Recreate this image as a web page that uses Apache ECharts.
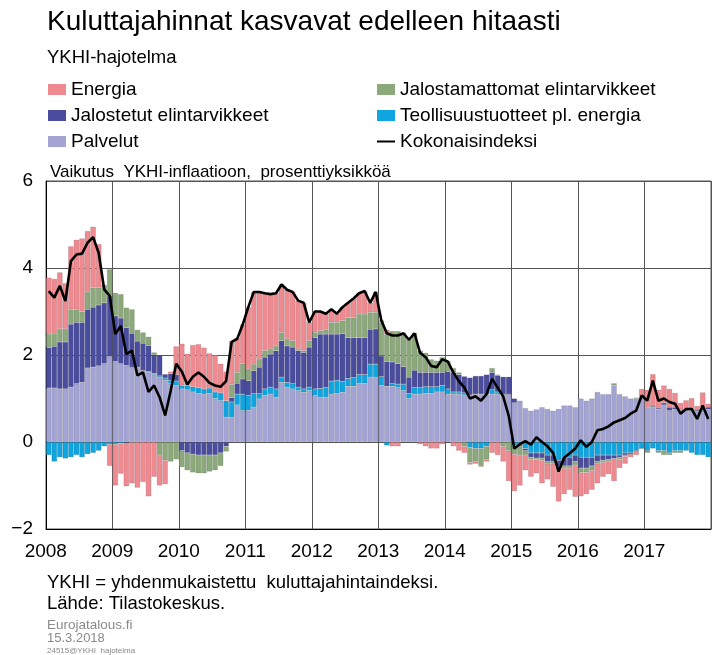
<!DOCTYPE html>
<html>
<head>
<meta charset="utf-8">
<script src="https://cdn.jsdelivr.net/npm/echarts@6/dist/echarts.min.js"></script>
<style>
html, body { margin: 0; padding: 0; background: #fff; }
#chart { width: 712px; height: 655px; }
</style>
</head>
<body>
<div id="chart"></div>
<script>
var years = ['2008', '2009', '2010', '2011', '2012', '2013', '2014', '2015', '2016', '2017'];

// kuukausittaiset vaikutukset, prosenttiyksikköä (2008/01 - 2017/12)
var palvelut = [
  1.24,1.24,1.22,1.22,1.26,1.34,1.37,1.7,1.72,1.75,1.8,1.96,
  1.85,1.8,1.76,1.72,1.7,1.65,1.6,1.55,1.49,1.42,1.34,1.3,
  1.22,1.2,1.15,1.12,1.1,1.12,1.0,0.95,0.57,0.57,0.85,0.72,
  0.73,0.8,0.99,1.07,1.1,1.03,1.37,1.26,1.22,1.18,1.14,1.18,
  1.07,1.03,1.03,1.1,1.12,1.14,1.28,1.28,1.35,1.35,1.49,1.49,
  1.3,1.28,1.28,1.25,1.18,1.0,1.1,1.1,1.12,1.12,1.15,1.15,
  1.1,1.1,1.1,1.08,1.08,1.1,1.1,1.1,1.1,1.1,1.1,1.1,
  0.9,0.95,0.78,0.72,0.75,0.8,0.76,0.72,0.76,0.84,0.84,0.8,
  1.0,0.95,1.0,1.15,1.1,1.1,1.3,1.1,1.05,1.0,1.0,1.0,
  0.8,0.8,0.75,0.85,0.72,0.75,0.72,0.7,0.72,0.7,0.72,0.75
];
var teollisuus = [
  -0.3,-0.45,-0.35,-0.38,-0.35,-0.3,-0.35,-0.28,-0.25,-0.2,-0.1,-0.05,
  -0.05,-0.03,-0.02,0.0,0.02,0.0,0.02,0.03,0.03,0.05,0.08,0.1,
  0.08,0.1,0.12,0.13,0.12,0.12,0.15,0.18,0.38,0.35,0.25,0.38,
  0.34,0.31,0.12,0.15,0.16,0.19,0.12,0.11,0.12,0.08,0.08,0.08,
  0.15,0.2,0.22,0.3,0.3,0.25,0.18,0.2,0.2,0.2,0.3,0.3,
  0.2,-0.08,0.06,0.08,0.15,0.12,0.15,0.15,0.15,0.15,0.12,0.15,
  0.12,0.05,0.05,0.05,-0.12,-0.15,-0.15,-0.1,0.1,0.05,0.0,0.0,
  -0.08,-0.1,-0.15,-0.25,-0.25,-0.25,-0.3,-0.3,-0.42,-0.35,-0.35,-0.3,
  -0.35,-0.35,-0.35,-0.3,-0.3,-0.3,-0.3,-0.3,-0.25,-0.25,-0.2,-0.15,
  -0.2,-0.15,-0.2,-0.2,-0.25,-0.2,-0.2,-0.2,-0.25,-0.3,-0.3,-0.35
];
var jalostetut = [
  0.93,0.96,1.08,1.08,1.45,1.41,1.38,1.35,1.38,1.4,1.4,1.4,
  1.05,1.05,0.87,0.78,0.6,0.62,0.6,0.42,0.48,0.09,0.15,0.15,
  -0.2,-0.25,-0.28,-0.3,-0.3,-0.3,-0.3,-0.25,-0.1,0.1,0.25,0.35,
  0.34,0.53,0.61,0.73,0.76,0.88,0.84,0.84,0.84,0.84,0.84,0.92,
  1.18,1.25,1.23,1.08,1.06,1.1,0.94,0.92,0.85,0.85,0.8,0.81,
  0.48,0.57,0.5,0.47,0.4,0.37,0.4,0.35,0.33,0.33,0.33,0.3,
  0.4,0.45,0.4,0.38,0.4,0.42,0.42,0.45,0.4,0.38,0.4,0.4,
  0.1,0.0,-0.05,-0.1,-0.12,-0.12,-0.15,-0.15,-0.15,-0.2,-0.2,-0.15,
  -0.25,-0.25,-0.2,-0.15,-0.12,-0.1,-0.08,-0.05,-0.05,-0.03,0.0,0.0,
  0.0,0.02,0.03,0.05,0.08,0.05,0.03,0.03,0.03,0.03,0.05,0.05
];
var jalostamattomat = [
  0.31,0.3,0.3,0.3,0.34,0.3,0.25,0.4,0.45,0.4,0.4,0.61,
  0.53,0.55,0.46,0.55,0.26,0.25,0.2,0.06,-0.3,-0.42,-0.45,-0.4,
  -0.38,-0.4,-0.42,-0.42,-0.42,-0.38,-0.35,-0.3,-0.12,0.3,0.25,0.35,
  0.27,0.15,0.19,0.15,0.12,0.11,0.19,0.16,0.15,0.04,0.04,0.15,
  0.12,0.08,0.1,0.27,0.27,0.3,0.46,0.46,0.54,0.54,0.39,0.38,
  0.77,0.63,0.71,0.75,0.77,0.86,0.85,0.5,0.45,0.3,0.27,0.35,
  0.23,0.1,0.05,-0.1,-0.35,-0.3,-0.4,-0.3,0.1,0.02,-0.1,-0.2,
  -0.2,-0.2,-0.1,-0.05,-0.03,-0.05,-0.05,-0.05,-0.05,-0.05,-0.05,-0.08,
  -0.1,-0.1,-0.1,-0.05,-0.05,-0.05,0.05,-0.05,-0.03,0.0,0.02,0.05,
  -0.05,0.0,-0.05,-0.1,-0.05,-0.05,-0.05,0.0,0.0,0.0,0.02,0.0
];
var energia = [
  1.3,1.25,1.3,1.05,1.45,1.6,1.68,1.4,1.4,1.0,0.0,-0.5,
  -0.95,-0.7,-1.0,-0.95,-1.05,-0.92,-1.25,-0.8,-0.7,-0.55,0.05,0.65,
  0.96,0.73,0.96,1.0,0.95,0.8,0.85,0.67,0.67,1.0,0.8,0.9,
  1.42,1.66,1.54,1.32,1.26,1.21,1.1,1.13,1.12,1.11,1.1,0.42,
  0.48,0.44,0.37,0.3,0.2,0.31,0.34,0.44,0.48,0.53,0.22,0.47,
  0.05,0.1,-0.1,-0.1,0.0,0.0,0.0,-0.05,-0.1,-0.15,-0.15,-0.05,
  0.0,-0.1,-0.2,-0.15,-0.05,-0.05,-0.02,-0.05,-0.25,-0.3,-0.35,-0.7,
  -0.85,-0.7,-0.35,-0.4,-0.32,-0.53,-0.36,-0.53,-0.75,-0.6,-0.5,-0.73,
  -0.55,-0.5,-0.45,-0.45,-0.33,-0.29,-0.52,-0.2,-0.17,-0.07,-0.1,0.17,
  0.4,0.74,0.42,0.4,0.42,0.33,0.15,0.23,0.26,0.1,0.35,0.08
];
var kokonais = [
  3.47,3.32,3.59,3.24,4.16,4.31,4.33,4.58,4.71,4.35,3.51,3.36,
  2.48,2.67,2.02,2.1,1.53,1.6,1.15,1.3,1.03,0.61,1.18,1.8,
  1.62,1.32,1.5,1.6,1.5,1.36,1.3,1.27,1.4,2.3,2.37,2.7,
  3.1,3.45,3.45,3.42,3.4,3.42,3.62,3.5,3.45,3.25,3.2,2.75,
  3.0,3.0,2.95,3.05,2.95,3.1,3.2,3.3,3.42,3.47,3.2,3.45,
  2.8,2.5,2.45,2.45,2.5,2.35,2.5,2.05,1.95,1.75,1.72,1.9,
  1.85,1.6,1.4,1.25,1.0,1.05,0.95,1.1,1.45,1.25,1.05,0.6,
  -0.15,-0.05,0.02,-0.06,0.11,0.0,-0.1,-0.25,-0.68,-0.36,-0.26,-0.15,
  0.04,-0.11,0.0,0.27,0.3,0.36,0.45,0.5,0.55,0.65,0.72,1.07,
  0.95,1.41,0.95,1.0,0.92,0.88,0.65,0.76,0.76,0.53,0.84,0.53
];

var font = 'Liberation Sans, Arial, sans-serif';

// kuukausiluokat 2008-01 ... 2017-12
var months = [];
years.forEach(function (y) {
  for (var m = 1; m <= 12; m++) {
    months.push(y + '-' + (m < 10 ? '0' + m : m));
  }
});

function yearStart(index) {
  return index % 12 === 0;
}

function barSeries(name, data, color) {
  return {
    name: name,
    type: 'bar',
    stack: 'ykhi',
    barCategoryGap: 0,
    data: data,
    itemStyle: { color: color, borderColor: 'rgba(60,60,60,0.25)', borderWidth: 0.6 },
    emphasis: { disabled: true }
  };
}

var legendText = { fontSize: 19, color: '#000', fontFamily: font };
var rectIcon = function (name) { return { name: name, icon: 'rect', itemStyle: { borderWidth: 0 } }; };

var myChart = echarts.init(document.getElementById('chart'));

myChart.setOption({
  animation: false,
  textStyle: { fontFamily: font },
  grid: { left: 46, right: 1, top: 181, bottom: 126, show: true, borderColor: '#555', borderWidth: 1 },
  legend: [
    {
      left: 48, top: 80, orient: 'vertical', padding: 0,
      itemWidth: 18, itemHeight: 11, itemGap: 7,
      selectedMode: false,
      textStyle: legendText,
      data: [rectIcon('Energia'), rectIcon('Jalostetut elintarvikkeet'), rectIcon('Palvelut')]
    },
    {
      left: 376, top: 80, orient: 'vertical', padding: 0,
      itemWidth: 18, itemHeight: 11, itemGap: 7,
      selectedMode: false,
      textStyle: legendText,
      data: [
        rectIcon('Jalostamattomat elintarvikkeet'),
        rectIcon('Teollisuustuotteet pl. energia'),
        { name: 'Kokonaisindeksi', itemStyle: { opacity: 0 } }
      ]
    }
  ],
  xAxis: {
    type: 'category',
    data: months,
    boundaryGap: true,
    axisLine: { show: true, onZero: false, lineStyle: { color: '#000', width: 1 } },
    axisTick: { show: false },
    axisLabel: {
      interval: yearStart,
      fontSize: 19, color: '#000', margin: 13, fontFamily: font,
      padding: [0, 6, 0, 0],
      formatter: function (v) { return v.slice(0, 4); }
    },
    splitLine: { show: true, interval: yearStart, lineStyle: { color: '#555', width: 1 } }
  },
  yAxis: {
    type: 'value',
    min: -2,
    max: 6,
    interval: 2,
    axisLine: { show: true, lineStyle: { color: '#000', width: 1 } },
    axisTick: { show: false },
    axisLabel: {
      fontSize: 19, color: '#000', margin: 13, fontFamily: font,
      formatter: function (v) { return v < 0 ? '\u2212' + Math.abs(v) : String(v); }
    },
    splitLine: { show: true, lineStyle: { color: '#555', width: 1 } }
  },
  series: [
    barSeries('Palvelut', palvelut, '#A3A4D4'),
    barSeries('Teollisuustuotteet pl. energia', teollisuus, '#0EA5E0'),
    barSeries('Jalostetut elintarvikkeet', jalostetut, '#4A4C9E'),
    barSeries('Jalostamattomat elintarvikkeet', jalostamattomat, '#8CA97B'),
    barSeries('Energia', energia, '#EF8A90'),
    {
      name: 'Kokonaisindeksi',
      type: 'line',
      data: kokonais,
      symbol: 'none',
      z: 10,
      itemStyle: { color: '#000' },
      lineStyle: { color: '#000', width: 2.6 },
      emphasis: { disabled: true }
    }
  ],
  graphic: [
    { type: 'text', left: 47, top: 8, style: { text: 'Kuluttajahinnat kasvavat edelleen hitaasti', font: '28px ' + font, fill: '#000' } },
    { type: 'text', left: 47, top: 48, style: { text: 'YKHI-hajotelma', font: '18.5px ' + font, fill: '#000' } },
    { type: 'text', left: 50, top: 164, style: { text: 'Vaikutus  YKHI-inflaatioon,  prosenttiyksikköä', font: '17px ' + font, fill: '#000' } },
    { type: 'text', left: 47, top: 573, style: { text: 'YKHI = yhdenmukaistettu  kuluttajahintaindeksi.', font: '18.5px ' + font, fill: '#000' } },
    { type: 'text', left: 47, top: 594, style: { text: 'Lähde: Tilastokeskus.', font: '18.5px ' + font, fill: '#000' } },
    { type: 'text', left: 47, top: 618, style: { text: 'Eurojatalous.fi', font: '13.5px ' + font, fill: '#8a8a8a' } },
    { type: 'text', left: 47, top: 632, style: { text: '15.3.2018', font: '13px ' + font, fill: '#8a8a8a' } },
    { type: 'text', left: 47, top: 647, style: { text: '24515@YKHI  hajotelma', font: '8px ' + font, fill: '#8a8a8a' } }
  ]
});
</script>
</body>
</html>
